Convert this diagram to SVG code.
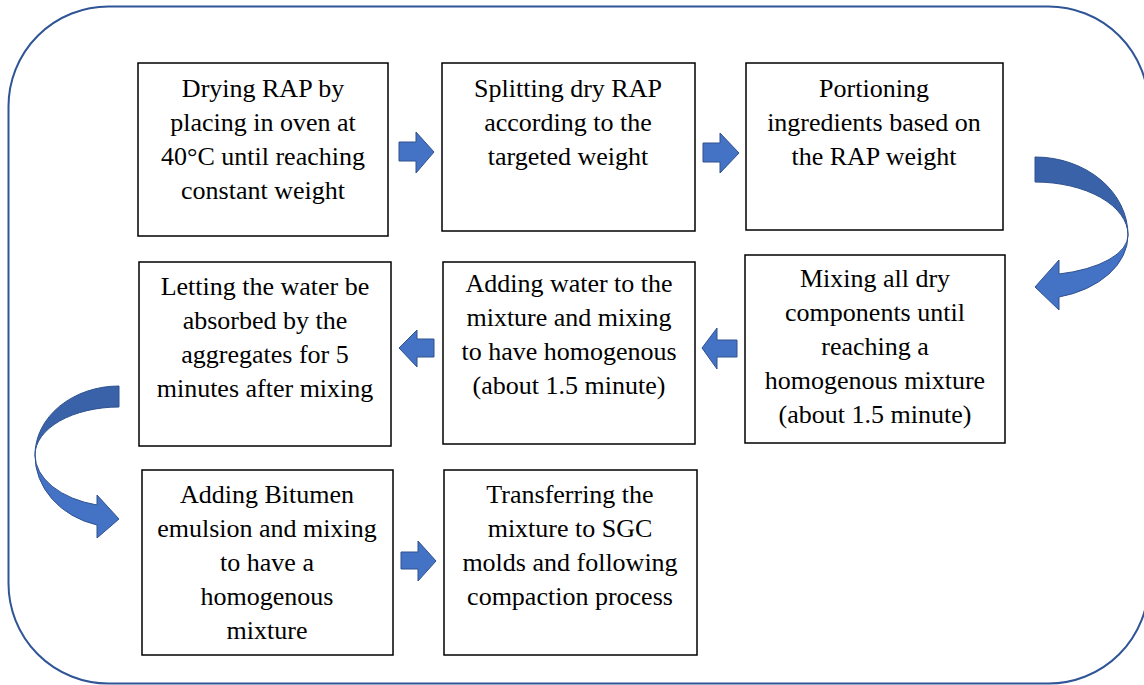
<svg xmlns="http://www.w3.org/2000/svg" width="1144" height="685" viewBox="0 0 1144 685">
<style>
.frame{fill:#fff;stroke:#2F5597;stroke-width:2}
.box{fill:#fff;stroke:#000;stroke-width:1.5}
.t{font-family:"Liberation Serif","Times New Roman",serif;font-size:26px;fill:#000;text-anchor:middle}
.arr{fill:#4472C4;stroke:#2F528F;stroke-width:1}
.dark{fill:#3A62A8;stroke:#2F528F;stroke-width:1}
</style>
<rect class="frame" x="8.5" y="6.5" width="1140" height="677" rx="100" ry="100"/>
<g id="n1"><rect class="box" x="138" y="63" width="250" height="173"/>
<text class="t"><tspan x="263" y="97">Drying RAP by</tspan><tspan x="263" y="131">placing in oven at</tspan><tspan x="263" y="165">40°C until reaching</tspan><tspan x="263" y="199">constant weight</tspan></text></g>
<g id="n2"><rect class="box" x="442" y="63" width="253" height="168"/>
<text class="t"><tspan x="568" y="97">Splitting dry RAP</tspan><tspan x="568" y="131">according to the</tspan><tspan x="568" y="165">targeted weight</tspan></text></g>
<g id="n3"><rect class="box" x="746" y="63" width="257" height="167"/>
<text class="t"><tspan x="874" y="97">Portioning</tspan><tspan x="874" y="131">ingredients based on</tspan><tspan x="874" y="165">the RAP weight</tspan></text></g>
<g id="n4"><rect class="box" x="745" y="255" width="260" height="188"/>
<text class="t"><tspan x="875" y="287">Mixing all dry</tspan><tspan x="875" y="321">components until</tspan><tspan x="875" y="355">reaching a</tspan><tspan x="875" y="389">homogenous mixture</tspan><tspan x="875" y="423">(about 1.5 minute)</tspan></text></g>
<g id="n5"><rect class="box" x="443" y="262" width="252" height="182"/>
<text class="t"><tspan x="569" y="292">Adding water to the</tspan><tspan x="569" y="326">mixture and mixing</tspan><tspan x="569" y="360">to have homogenous</tspan><tspan x="569" y="394">(about 1.5 minute)</tspan></text></g>
<g id="n6"><rect class="box" x="139" y="262" width="252" height="184"/>
<text class="t"><tspan x="265" y="295">Letting the water be</tspan><tspan x="265" y="329">absorbed by the</tspan><tspan x="265" y="363">aggregates for 5</tspan><tspan x="265" y="397">minutes after mixing</tspan></text></g>
<g id="n7"><rect class="box" x="142" y="470" width="251" height="185"/>
<text class="t"><tspan x="267" y="503">Adding Bitumen</tspan><tspan x="267" y="537">emulsion and mixing</tspan><tspan x="267" y="571">to have a</tspan><tspan x="267" y="605">homogenous</tspan><tspan x="267" y="639">mixture</tspan></text></g>
<g id="n8"><rect class="box" x="444" y="470" width="253" height="185"/>
<text class="t"><tspan x="570" y="503">Transferring the</tspan><tspan x="570" y="537">mixture to SGC</tspan><tspan x="570" y="571">molds and following</tspan><tspan x="570" y="605">compaction process</tspan></text></g>
<g id="connectors">
<path class="arr" d="M399,142 H416 V132 L434,152 L416,173 V161 H399 Z"/>
<path class="arr" d="M703,143 H720 V133 L739,153 L720,173 V162 H703 Z"/>
<path class="arr" d="M737,340 H717 V328 L702,348 L717,369 V357 H737 Z"/>
<path class="arr" d="M434,339 H417 V330 L399,348 L417,367 V357 H434 Z"/>
<path class="arr" d="M401,552 H418 V541 L436,561 L418,581 V569 H401 Z"/>
<path class="dark" d="M1035,157 A93,78 0 0 1 1128,235 A93,53 0 0 0 1035,182 Z"/>
<path class="arr" d="M1128,235 A93,64 0 0 1 1059,297 L1059,310 L1035,287 L1059,260 L1059,274 A93,40 0 0 0 1128,235 Z"/>
<path class="dark" d="M119,386 A84,69 0 0 0 35,455 A84,48 0 0 1 119,407 Z"/>
<path class="arr" d="M35,455 A84,72 0 0 0 97,525 L97,538 L119,519 L97,495 L97,505 A84,52 0 0 1 35,455 Z"/>
</g>
</svg>
